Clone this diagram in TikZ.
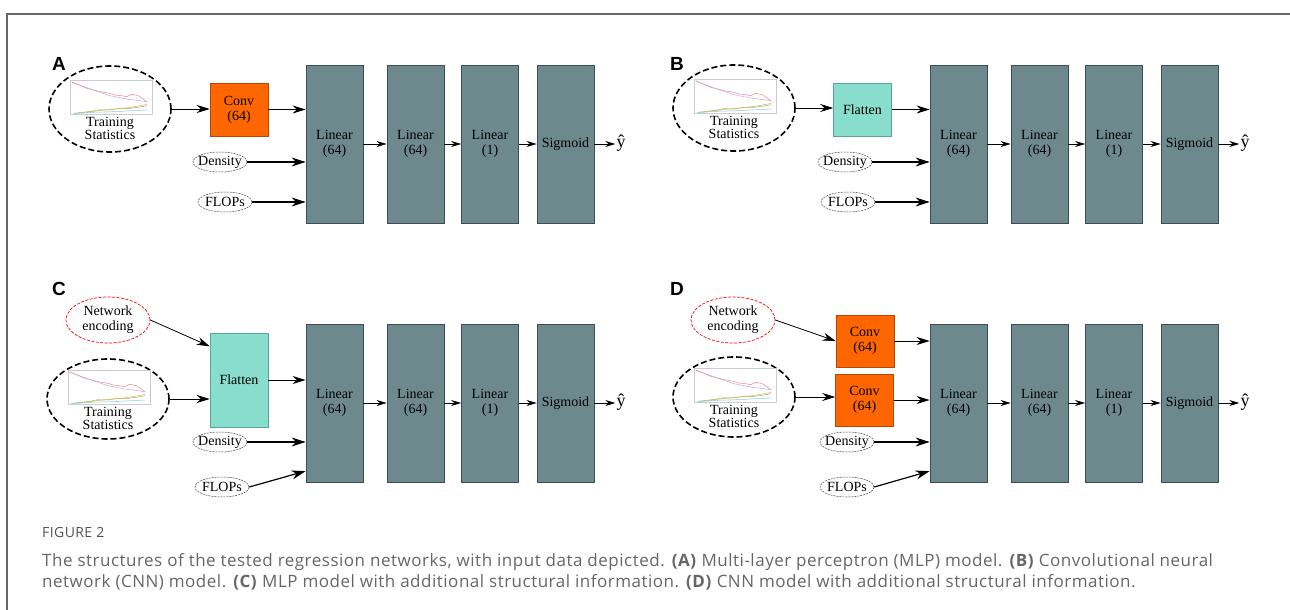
\documentclass[tikz,border=0pt]{standalone}
\usepackage{fontspec}
\setmainfont{Liberation Serif}
\newfontfamily\capfont[LetterSpace=3]{Open Sans}
\newfontfamily\lblfont{Liberation Sans}
\usetikzlibrary{shapes.geometric,arrows.meta,positioning}

\definecolor{layergray}{HTML}{6E898E}
\definecolor{layeredge}{HTML}{3B4F53}
\definecolor{convorange}{HTML}{FF6600}
\definecolor{convedge}{HTML}{B04A05}
\definecolor{flatgreen}{HTML}{88DDCC}
\definecolor{flatedge}{HTML}{55A898}
\definecolor{capgray}{HTML}{666666}
\definecolor{lossred}{HTML}{F08A8A}
\definecolor{losspurple}{HTML}{C9A2E2}
\definecolor{accgreen}{HTML}{8CC064}
\definecolor{accorange}{HTML}{E2B04A}
\definecolor{accblue}{HTML}{86C8E6}

\tikzset{
    boxfont/.style={font=\fontsize{14}{15}\selectfont},
    layer/.style={draw=layeredge, fill=layergray, line width=0.8pt, minimum width=57pt, minimum height=158pt, align=center, inner sep=0pt, boxfont},
    convbox/.style={draw=convedge, fill=convorange, line width=0.6pt, minimum width=58pt, minimum height=53pt, align=center, inner sep=0pt, boxfont},
    flatbox/.style={draw=flatedge, fill=flatgreen, line width=0.6pt, minimum width=58pt, minimum height=53pt, align=center, inner sep=0pt, boxfont},
    statsell/.style={ellipse, draw=black, line width=1.6pt, dash pattern=on 6pt off 3pt, minimum width=122pt, minimum height=86pt, inner sep=0pt},
    stattext/.style={align=center, inner sep=0pt, font=\fontsize{14}{13.5}\selectfont},
    encell/.style={ellipse, draw=red, line width=0.7pt, dash pattern=on 3pt off 1.5pt, minimum width=84pt, minimum height=46pt, align=center, inner sep=0pt, boxfont},
    scalarell/.style={ellipse, draw=black!75, line width=0.5pt, dash pattern=on 2pt off 1pt, minimum width=54pt, minimum height=20pt, inner xsep=-4pt, inner ysep=-1pt, boxfont},
    panel/.style={inner sep=0pt, font=\lblfont\bfseries\fontsize{19}{19}\selectfont},
    chain/.style={-{Stealth[length=10pt,width=6pt]}, line width=0.7pt},
    flow/.style={-{Stealth[length=13pt,width=8pt]}, line width=0.8pt},
    feed/.style={-{Stealth[length=14pt,width=9pt]}, line width=1.2pt}
}

% small loss / accuracy curves inside a statistics ellipse
\newcommand{\statplot}[1]{%
    \begin{scope}[shift={(#1.center)}, line width=0.5pt]
        \draw[black!20, fill=white] (-40,-29) rectangle (42,5);
        \draw[lossred] (-38.3,-27.3) -- (-23.3,-20.7) -- (-10,-17.3) -- (0,-15.7) -- (5,-14) -- (11.7,-13.3) -- (16.7,-12.3) -- (21.7,-14.7) -- (28.3,-13.3) -- (33.3,-10) -- (37.3,-6.7);
        \draw[losspurple] (-38.3,-26.7) -- (-16.7,-19) -- (0,-13.3) -- (16.7,-10) -- (37.3,-7.3);
        \draw[accgreen] (-36.7,4.3) -- (-26.7,3.3) -- (-16.7,2) -- (-10,0.7) -- (0,1) -- (10,-0.7) -- (20,-0.7) -- (30,-2) -- (37.3,-3.3);
        \draw[accorange] (-30,4) -- (-10,1.5) -- (5,0) -- (20,-1.5) -- (37,-4.5);
        \draw[accblue] (-36.7,4.7) -- (-16.7,3.3) -- (3.3,2.7) -- (37.3,1);
    \end{scope}}

\begin{document}
\begin{tikzpicture}[x=1pt, y=-1pt]
    \useasboundingbox (0,0) rectangle (1290,610);

    % Frame
    \draw[black!60, line width=1.2pt] (7,610) -- (7,14) -- (1290,14);

    % Panel A
    \node[panel] (labA) at (59,64) {A};
    \node[statsell] (tsA) at (110,109) {};
    \statplot{tsA}
    \node[stattext] (tsAtxt) at ([yshift=-19.5pt]tsA.center) {Training\\Statistics};
    \node[convbox] (convA) at (239,109.5) {Conv\\(64)};
    \node[scalarell] (denA) at (220,162) {Density};
    \node[scalarell] (flpA) at (225,202) {FLOPs};

    % Panel B
    \node[panel] (labB) at (677,64) {B};
    \node[statsell] (tsB) at (734,108) {};
    \statplot{tsB}
    \node[stattext] (tsBtxt) at ([yshift=-19.5pt]tsB.center) {Training\\Statistics};
    \node[flatbox] (flatB) at (862.5,109.5) {Flatten};
    \node[scalarell] (denB) at (845,162) {Density};
    \node[scalarell] (flpB) at (848,202) {FLOPs};

    % Panel C
    \node[panel] (labC) at (59,289) {C};
    \node[encell] (netC) at (108,320) {Network\\encoding};
    \node[statsell, minimum height=80pt] (tsC) at (108,399) {};
    \statplot{tsC}
    \node[stattext] (tsCtxt) at ([yshift=-19.5pt]tsC.center) {Training\\Statistics};
    \node[flatbox, minimum height=94pt] (flatC) at (239,380) {Flatten};
    \node[scalarell] (denC) at (220,442) {Density};
    \node[scalarell] (flpC) at (222,487) {FLOPs};

    % Panel D
    \node[panel] (labD) at (677,289) {D};
    \node[encell] (netD) at (733,320) {Network\\encoding};
    \node[statsell, minimum height=80pt] (tsD) at (734,397) {};
    \statplot{tsD}
    \node[stattext] (tsDtxt) at ([yshift=-19.5pt]tsD.center) {Training\\Statistics};
    \node[convbox, minimum height=52pt] (conv1D) at (865,341) {Conv\\(64)};
    \node[convbox, minimum height=52pt] (conv2D) at (864.5,400) {Conv\\(64)};
    \node[scalarell] (denD) at (847,442) {Density};
    \node[scalarell] (flpD) at (847,487) {FLOPs};

    % Layer chains
    \foreach \p/\dx/\cy in {A/0/144, B/624/144, C/0/403, D/624/403} {
        \node[layer] (lin\p1) at (334.5+\dx,\cy) {Linear\\(64)};
        \node[layer] (lin\p2) at (415.5+\dx,\cy) {Linear\\(64)};
        \node[layer] (lin\p3) at (490+\dx,\cy) {Linear\\(1)};
        \node[layer] (sig\p) at (565.5+\dx,\cy) {Sigmoid};
        \node[inner sep=1pt, font=\fontsize{18}{18}\selectfont] (yhat\p) at (621+\dx,\cy-1) {ŷ};
        \draw[chain] (lin\p1) -- (lin\p2);
        \draw[chain] (lin\p2) -- (lin\p3);
        \draw[chain] (lin\p3) -- (sig\p);
        \draw[chain] (sig\p.east) -- (sig\p.east -| yhat\p.west);
        \draw[feed] (den\p) -- (den\p -| lin\p1.west);
    }

    % Inputs
    \draw[flow] (tsA) -- (tsA -| convA.west);
    \draw[flow] (convA.east) -- (convA.east -| linA1.west);
    \draw[feed] (flpA) -- (flpA -| linA1.west);

    \draw[flow] (tsB) -- (tsB -| flatB.west);
    \draw[flow] (flatB.east) -- (flatB.east -| linB1.west);
    \draw[feed] (flpB) -- (flpB -| linB1.west);

    \draw[flow] (netC.east) -- (flatC.131);
    \draw[flow] (tsC) -- (tsC -| flatC.west);
    \draw[flow] (flatC.east) -- (flatC.east -| linC1.west);
    \draw[feed] (flpC.east) -- (linC1.247);

    \draw[flow] (netD.east) -- (conv1D.west);
    \draw[flow] (tsD) -- (tsD -| conv2D.west);
    \draw[flow] (conv1D.east) -- (conv1D.east -| linD1.west);
    \draw[flow] (conv2D.east) -- (conv2D.east -| linD1.west);
    \draw[feed] (flpD.east) -- (linD1.247);

    % Caption
    \node[anchor=base west, inner sep=0pt, text=capgray!80!black, font=\capfont\fontsize{14}{14}\selectfont] (figno) at (42,537) {FIGURE 2};
    \node[anchor=base west, inner sep=0pt, text=capgray, font=\capfont\fontsize{17}{17}\selectfont] (capA) at (42,566) {The structures of the tested regression networks, with input data depicted. \textbf{(A)} Multi-layer perceptron (MLP) model. \textbf{(B)} Convolutional neural};
    \node[anchor=base west, inner sep=0pt, text=capgray, font=\capfont\fontsize{17}{17}\selectfont] (capB) at (42,587) {network (CNN) model. \textbf{(C)} MLP model with additional structural information. \textbf{(D)} CNN model with additional structural information.};
\end{tikzpicture}
\end{document}
